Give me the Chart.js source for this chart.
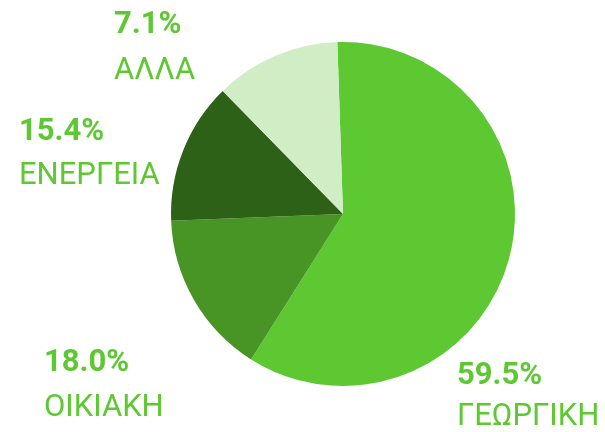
<!DOCTYPE html>
<html lang="el">
<head>
  <meta charset="UTF-8" />
  <script src="https://cdn.jsdelivr.net/npm/chart.js"></script>
  <title>Pie</title>
  <style>
    html, body { margin: 0; padding: 0; background: #fff; }
    #wrap { width: 605px; height: 432px; position: relative; }
  </style>
</head>
<body>
  <div id="wrap"><canvas id="pieChart"></canvas></div>
  <script>
    // categories, clockwise from the top
    const categories = ['ΓΕΩΡΓΙΚΗ', 'ΟΙΚΙΑΚΗ', 'ΕΝΕΡΓΕΙΑ', 'ΑΛΛΑ'];
    // slice sizes as drawn (share of the circle, %)
    const sliceValues = [59.5, 15.4, 13.3, 11.8];
    // percentages printed in the labels
    const labelPercents = ['59.5%', '18.0%', '15.4%', '7.1%'];
    const colors = ['#5ec832', '#489526', '#2e6118', '#d0edc5'];

    // label blocks: left x, baseline of percent line, baseline of name line
    const labelPos = [
      { x: 457, y1: 384, y2: 425 },
      { x: 44, y1: 371, y2: 416 },
      { x: 19, y1: 140, y2: 184 },
      { x: 114, y1: 33, y2: 79 }
    ];

    const outsideLabels = {
      id: 'outsideLabels',
      afterDraw(chart) {
        const c = chart.ctx;
        c.save();
        c.fillStyle = '#5ec832';
        c.textAlign = 'left';
        c.textBaseline = 'alphabetic';
        categories.forEach((name, i) => {
          const p = labelPos[i];
          c.font = 'bold 31px Roboto';
          c.fillText(labelPercents[i], p.x, p.y1);
          c.font = '31px Roboto';
          c.fillText(name, p.x, p.y2);
        });
        c.restore();
      }
    };

    new Chart(document.getElementById('pieChart'), {
      type: 'pie',
      data: {
        labels: categories,
        datasets: [{
          data: sliceValues,
          backgroundColor: colors,
          borderWidth: 0
        }]
      },
      options: {
        responsive: true,
        maintainAspectRatio: false,
        animation: false,
        rotation: -1.9,
        layout: { padding: { left: 81, right: 0, top: 42, bottom: 46 } },
        plugins: {
          legend: { display: false },
          tooltip: { enabled: false }
        }
      },
      plugins: [outsideLabels]
    });
  </script>
</body>
</html>
